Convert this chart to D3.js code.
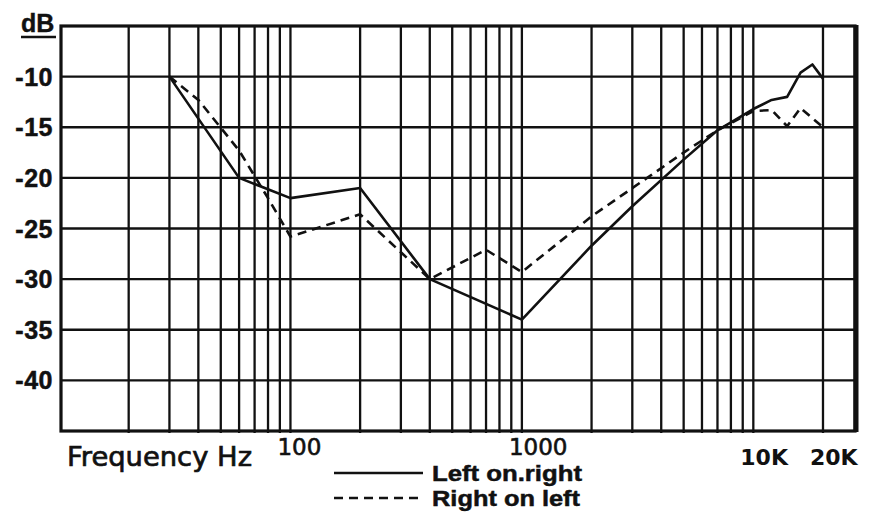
<!DOCTYPE html>
<html>
<head>
<meta charset="utf-8">
<script src="https://cdn.jsdelivr.net/npm/d3@7"></script>
<style>
    body { margin: 0; background: #fff; }
</style>
</head>
<body>
<div id="chart-container"></div>
<script>
// Frequency axis labels
const freqTickValues = [100, 1000, 10000, 20000];
const freqTickLabels = ["100", "1000", "10K", "20K"];

// dB axis labels
const dbTickValues = [-10, -15, -20, -25, -30, -35, -40];

// Left on right (solid)
const leftOnRightFreq = [30, 60, 100, 200, 400, 1000, 2000, 3000, 5000, 7000, 10000, 12000, 14000, 16000, 18000, 20000];
const leftOnRightDb = [-10, -20, -22, -21, -30, -34, -26.7, -22.8, -18.2, -15.3, -13.2, -12.3, -12, -9.6, -8.8, -10.2];

// Right on left (dashed)
const rightOnLeftFreq = [30, 40, 60, 80, 100, 200, 400, 700, 1000, 2000, 5000, 7000, 10000, 12000, 14000, 16000, 20000];
const rightOnLeftDb = [-10, -12.3, -17.3, -22, -25.8, -23.6, -30, -27.1, -29.3, -23.8, -17.5, -15.3, -13.4, -13.3, -14.9, -13.1, -15];

const seriesNames = ["Left on.right", "Right on left"];

const width = 874;
const height = 512;
const plot = { left: 61, right: 855, top: 26, bottom: 431 };

const svg = d3.select("#chart-container")
    .append("svg")
    .attr("width", width)
    .attr("height", height)
    .style("display", "block");

// scales
const x = d3.scaleLog()
    .domain([10.2, 27500])
    .range([plot.left, plot.right]);

const y = d3.scaleLinear()
    .domain([-45, -5])
    .range([plot.bottom, plot.top]);

// grid: vertical lines every 1..9 of each decade
const gridFreqs = [];
[10, 100, 1000].forEach(dec => {
    for (let k = 2; k <= 10; k++) gridFreqs.push(dec * k);
});
gridFreqs.push(20000);

svg.append("g")
    .selectAll("line")
    .data(gridFreqs)
    .join("line")
    .attr("x1", d => x(d))
    .attr("x2", d => x(d))
    .attr("y1", plot.top)
    .attr("y2", plot.bottom + 2)
    .attr("stroke", "#111")
    .attr("stroke-width", 2.3);

svg.append("g")
    .selectAll("line")
    .data(dbTickValues)
    .join("line")
    .attr("x1", plot.left)
    .attr("x2", plot.right)
    .attr("y1", d => y(d))
    .attr("y2", d => y(d))
    .attr("stroke", "#111")
    .attr("stroke-width", 2.3);

// frame
svg.append("rect")
    .attr("x", plot.left)
    .attr("y", plot.top)
    .attr("width", plot.right - plot.left)
    .attr("height", plot.bottom - plot.top)
    .attr("fill", "none")
    .attr("stroke", "#111")
    .attr("stroke-width", 3.2);

svg.append("line")
    .attr("x1", plot.right + 1).attr("x2", plot.right + 1)
    .attr("y1", plot.top - 1).attr("y2", plot.bottom + 1)
    .attr("stroke", "#111")
    .attr("stroke-width", 5);

// curves
const line = d3.line()
    .x(d => x(d[0]))
    .y(d => y(d[1]));

svg.append("path")
    .datum(leftOnRightFreq.map((f, i) => [f, leftOnRightDb[i]]))
    .attr("d", line)
    .attr("fill", "none")
    .attr("stroke", "#111")
    .attr("stroke-width", 2.6)
    .attr("stroke-linejoin", "round");

svg.append("path")
    .datum(rightOnLeftFreq.map((f, i) => [f, rightOnLeftDb[i]]))
    .attr("d", line)
    .attr("fill", "none")
    .attr("stroke", "#111")
    .attr("stroke-width", 2.6)
    .attr("stroke-dasharray", "9,6");

// y labels
svg.append("g")
    .selectAll("text")
    .data(dbTickValues)
    .join("text")
    .attr("x", 53)
    .attr("y", d => y(d) + 9)
    .attr("text-anchor", "end")
    .style("font-family", "'Liberation Sans', Arial, sans-serif")
    .style("font-weight", "bold")
    .style("font-size", "25px")
    .style("letter-spacing", "0.5px")
    .style("fill", "#111")
    .style("stroke", "#111")
    .style("stroke-width", 0.5)
    .text(d => d);

svg.append("text")
    .attr("x", 21)
    .attr("y", 32)
    .style("font-family", "'Liberation Sans', Arial, sans-serif")
    .style("font-weight", "bold")
    .style("font-size", "25px")
    .style("fill", "#111")
    .style("stroke", "#111")
    .style("stroke-width", 0.4)
    .text("dB");

svg.append("line")
    .attr("x1", 21).attr("x2", 56)
    .attr("y1", 37).attr("y2", 37)
    .attr("stroke", "#111")
    .attr("stroke-width", 2.5);

// x labels
svg.append("g")
    .selectAll("text")
    .data(freqTickValues)
    .join("text")
    .attr("x", d => x(d) - 13)
    .attr("y", (d, i) => freqTickLabels[i].includes("K") ? 465 : 455)
    .style("font-family", "'DejaVu Sans', sans-serif")
    .style("font-weight", (d, i) => freqTickLabels[i].includes("K") ? "bold" : "normal")
    .style("font-size", (d, i) => freqTickLabels[i].includes("K") ? "22px" : "23px")
    .style("fill", "#111")
    .style("stroke", "#111")
    .style("stroke-width", (d, i) => freqTickLabels[i].includes("K") ? 0 : 0.6)
    .text((d, i) => freqTickLabels[i]);

svg.append("text")
    .attr("x", 67)
    .attr("y", 466)
    .attr("textLength", 185)
    .attr("lengthAdjust", "spacingAndGlyphs")
    .style("font-family", "'DejaVu Sans', sans-serif")
    .style("font-size", "27px")
    .style("fill", "#111")
    .style("stroke", "#111")
    .style("stroke-width", 0.7)
    .text("Frequency Hz");

// legend
const legend = svg.append("g");
const legendRows = [481, 506];       // baselines
const legendWidths = [150, 148];
seriesNames.forEach((name, i) => {
    const ly = legendRows[i] - 8;
    legend.append("line")
        .attr("x1", 334).attr("x2", 423)
        .attr("y1", ly).attr("y2", ly)
        .attr("stroke", "#111")
        .attr("stroke-width", 2.6)
        .attr("stroke-dasharray", i === 0 ? null : "9,6");
    legend.append("text")
        .attr("x", 432)
        .attr("y", legendRows[i])
        .attr("textLength", legendWidths[i])
        .attr("lengthAdjust", "spacingAndGlyphs")
        .style("font-family", "'Liberation Sans', Arial, sans-serif")
        .style("font-weight", "bold")
        .style("font-size", "22px")
        .style("fill", "#111")
        .style("stroke", "#111")
        .style("stroke-width", 0.5)
        .text(name);
});
</script>
</body>
</html>
